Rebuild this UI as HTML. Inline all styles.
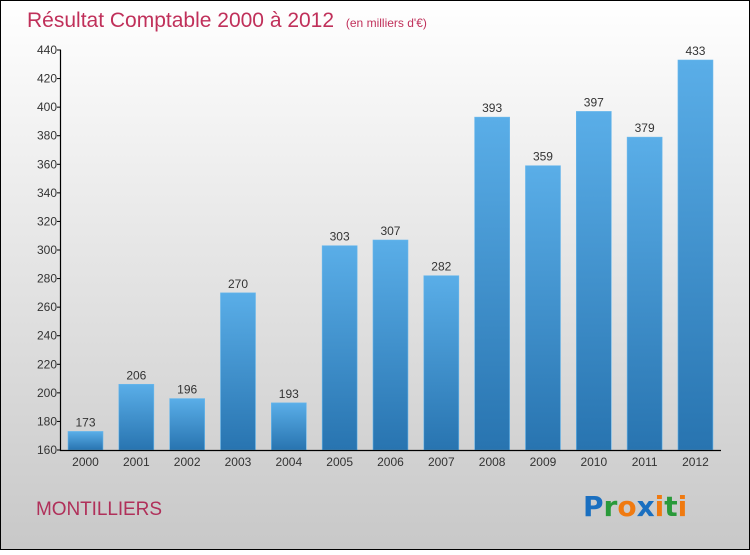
<!DOCTYPE html>
<html><head><meta charset="utf-8"><style>
body{margin:0}
#c{width:750px;height:550px;position:relative;font-family:"Liberation Sans",sans-serif}
</style></head><body>
<div id="c">
<svg width="750" height="550" xmlns="http://www.w3.org/2000/svg" id="s">
<defs>
<linearGradient id="bg" x1="0" y1="0" x2="0" y2="1"><stop offset="0" stop-color="#ffffff"/><stop offset="1" stop-color="#c8c8c8"/></linearGradient>
<linearGradient id="bar" x1="0" y1="0" x2="0" y2="1"><stop offset="0" stop-color="#5aaee8"/><stop offset="1" stop-color="#2874b0"/></linearGradient>
</defs>
<rect x="0.5" y="0.5" width="749" height="549" fill="url(#bg)" stroke="#000"/>
<text x="27" y="27" font-size="21" fill="#c0305a">Résultat Comptable 2000 à 2012 <tspan font-size="12" dx="6">(en milliers d'€)</tspan></text>
<g id="plot"></g>
<text x="36" y="515" font-size="19" fill="#b0305a" textLength="126">MONTILLIERS</text>
<g font-size="28" font-weight="bold" font-family="'DejaVu Sans',sans-serif">
<text x="583" y="516"><tspan fill="#1a6fc0">P</tspan><tspan fill="#2a9a3a">r</tspan><tspan fill="#f07a10">o</tspan><tspan fill="#1a6fc0">x</tspan><tspan fill="#f07a10">i</tspan><tspan fill="#2a9a3a">t</tspan><tspan fill="#f07a10">i</tspan></text>
</g>
</svg>
<script>
const years=["2000","2001","2002","2003","2004","2005","2006","2007","2008","2009","2010","2011","2012"];
const values=[173,206,196,270,193,303,307,282,393,359,397,379,433];
const ticks=[160,180,200,220,240,260,280,300,320,340,360,380,400,420,440];
const NS="http://www.w3.org/2000/svg";
const g=document.getElementById('plot');
const y=v=>450-(v-160)*400/280;
const x=i=>85.5+i*50.83;
function mk(t,a,txt){const e=document.createElementNS(NS,t);for(const k in a)e.setAttribute(k,a[k]);if(txt!==undefined)e.textContent=txt;g.appendChild(e);return e;}
values.forEach((v,i)=>{
 const r=mk('rect',{x:x(i)-17.5,y:y(v),width:35,height:450-y(v),fill:'url(#bar)',stroke:'#6ab8ec','stroke-width':0.6});
 
 
 const l=mk('text',{x:x(i),y:y(v)-5,'font-size':12,fill:'#333','text-anchor':'middle'},String(v));
 
 
 const xl=mk('text',{x:x(i),y:466,'font-size':12,fill:'#333','text-anchor':'middle'},years[i]);
 
 
});
ticks.forEach(t=>{
 mk('line',{x1:57,x2:61,y1:y(t),y2:y(t),stroke:'#000'});
 const tl=mk('text',{x:57,y:y(t)+4,'font-size':12,fill:'#333','text-anchor':'end'},String(t));
 
 
});
const ya=mk('line',{x1:60.5,x2:60.5,y1:y(440),y2:451,stroke:'#000','stroke-width':1.2});


const xa=mk('line',{x1:60,x2:721,y1:450.5,y2:450.5,stroke:'#000','stroke-width':1.2});


</script>
</div>
</body></html>
